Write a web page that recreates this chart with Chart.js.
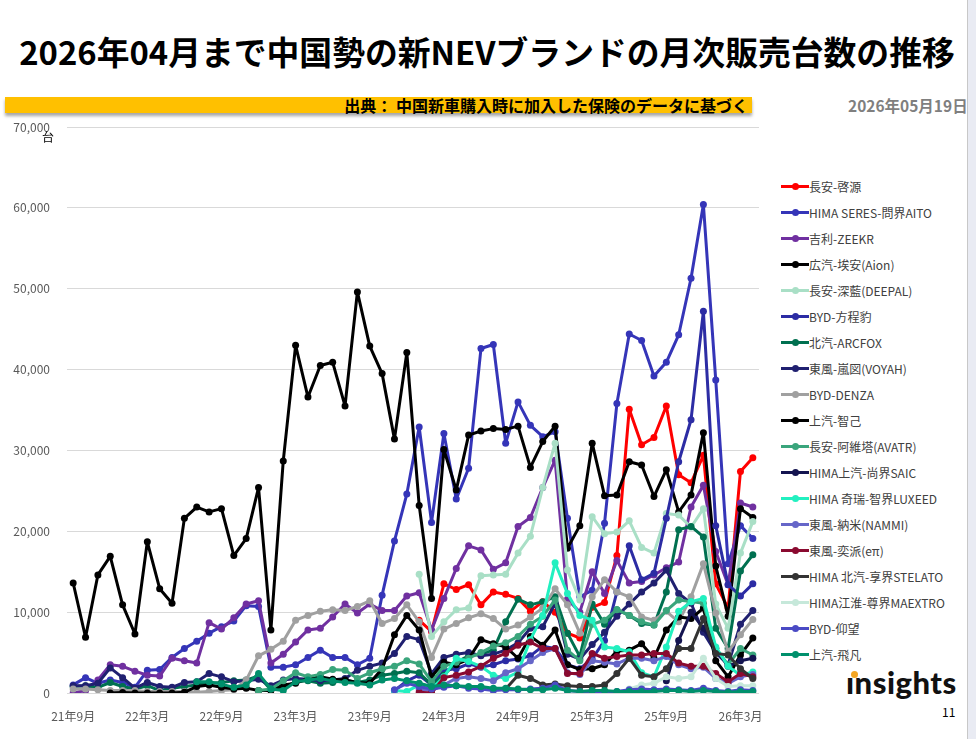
<!DOCTYPE html>
<html><head><meta charset="utf-8">
<script src="https://cdn.jsdelivr.net/npm/chart.js"></script>
<style>
html,body{margin:0;padding:0;background:#fff;}
#wrap{position:relative;width:976px;height:739px;overflow:hidden;background:#fff;font-family:"Noto Sans CJK JP","Noto Sans",sans-serif;}
#title{position:absolute;left:0;top:29px;width:974px;text-align:center;font-size:32.8px;font-weight:700;color:#000;line-height:44px;white-space:nowrap;}
#srcbar{position:absolute;left:5px;top:97px;width:747px;height:16px;background:#ffc000;box-shadow:0 3px 3px rgba(0,0,0,0.35);text-align:right;font-size:16px;font-weight:700;line-height:16px;color:#000;box-sizing:border-box;padding-right:4px;white-space:nowrap;}
#date{position:absolute;left:848px;top:95px;font-size:15.5px;font-weight:700;color:#7f7f7f;line-height:20px;white-space:nowrap;}
#c{position:absolute;left:0;top:0;}
#unit{position:absolute;left:42px;top:130px;font-size:12px;color:#000;line-height:14px;}
#legend{position:absolute;left:781px;top:173px;}
.li{height:26px;display:flex;align-items:center;white-space:nowrap;font-size:12px;color:#404040;}
.sw{position:relative;width:28px;height:12px;}
.sw .ln{position:absolute;left:0;top:4.5px;width:28px;height:3px;}
.sw .dt{position:absolute;left:10.5px;top:2.5px;width:7px;height:7px;border-radius:50%;}
#logo{position:absolute;left:846px;top:662px;font-family:Lato,"Open Sans",sans-serif;font-weight:900;font-size:31px;color:#111;line-height:40px;letter-spacing:0.5px;}
#logodot{position:absolute;left:851px;top:671px;width:7px;height:7px;border-radius:50%;background:#f5a623;}
#page{position:absolute;left:942px;top:704px;font-size:12px;color:#000;line-height:16px;}
#rstrip{position:absolute;left:967px;top:0;width:9px;height:739px;background:#e9ebf3;border-left:1px solid #c8c8c8;}
</style></head><body>
<div id="wrap">
<div id="title">2026年04月まで中国勢の新NEVブランドの月次販売台数の推移</div>
<div id="srcbar">出典： 中国新車購入時に加入した保険のデータに基づく</div>
<div id="date">2026年05月19日</div>
<canvas id="c" width="770" height="739"></canvas>
<div id="unit">台</div>
<div id="legend"></div>
<div id="logo">ınsights</div>
<div id="logodot"></div>
<div id="page">11</div>
<div id="rstrip"></div>
</div>
<script>
const categories = [
 "21年9月","21年10月","21年11月","21年12月",
 "22年1月","22年2月","22年3月","22年4月","22年5月","22年6月","22年7月","22年8月","22年9月","22年10月","22年11月","22年12月",
 "23年1月","23年2月","23年3月","23年4月","23年5月","23年6月","23年7月","23年8月","23年9月","23年10月","23年11月","23年12月",
 "24年1月","24年2月","24年3月","24年4月","24年5月","24年6月","24年7月","24年8月","24年9月","24年10月","24年11月","24年12月",
 "25年1月","25年2月","25年3月","25年4月","25年5月","25年6月","25年7月","25年8月","25年9月","25年10月","25年11月","25年12月",
 "26年1月","26年2月","26年3月","26年4月"
];
const yTicks = [0,10000,20000,30000,40000,50000,60000,70000];
const tickEvery = 6;

const seriesNames = [
 "長安-啓源","HIMA SERES-問界AITO","吉利-ZEEKR","広汽-埃安(Aion)","長安-深藍(DEEPAL)","BYD-方程豹","北汽-ARCFOX","東風-嵐図(VOYAH)","BYD-DENZA","上汽-智己",
 "長安-阿維塔(AVATR)","HIMA上汽-尚界SAIC","HIMA 奇瑞-智界LUXEED","東風-納米(NAMMI)","東風-奕派(eπ)","HIMA 北汽-享界STELATO","HIMA江淮-尊界MAEXTRO","BYD-仰望","上汽-飛凡"
];
const seriesColors = [
 "#ff0000","#3535b8","#7030a0","#000000","#a9dfc6","#2c2ca4","#007050","#202070","#a0a0a0","#000000",
 "#3aa57c","#141450","#22f0c0","#6666c8","#8a0a30","#333333","#c6e8da","#4a4ac4","#00906c"
];

const qiyuan = [null,null,null,null,null,null,null,null,null,null,null,null,null,null,null,null,null,null,null,null,null,null,null,null,null,null,null,null,
 9000,7600,13500,12800,13400,10900,12500,12200,11700,10100,
 11300,10000,7400,6800,10600,11200,17000,35100,30700,31600,
 35500,27000,26000,29400,13500,10500,27400,29100];
const aito = [1000,1900,1200,1600,1300,700,2800,2900,4400,5500,
 6400,7400,8200,8900,10800,10700,3200,3200,3500,4400,
 5300,4400,4400,3500,4300,12100,18800,24600,32900,21100,
 32100,24000,27800,42600,43100,30900,36000,33100,31700,32300,
 21600,11900,12700,21000,35800,44400,43600,39200,40900,44300,
 51300,60400,38700,16000,20700,19100];
const zeekr = [0,300,1600,3500,3300,2700,2200,2100,4300,4000,
 3700,8700,7900,9300,11000,11400,3700,4800,6300,7800,
 8000,9400,11000,9900,11000,10200,10200,12000,12400,7800,
 11700,15400,18200,17700,15300,16100,20600,21700,25400,28800,
 11600,10000,15000,12300,16400,13600,13800,14600,15500,16200,
 23000,25700,17500,13400,23500,23000];
const aion = [13600,6900,14600,16900,10900,7300,18700,12900,11100,21600,
 23000,22400,22800,17000,19100,25400,7800,28700,43000,36600,
 40500,40900,35500,49600,42900,39500,31400,42100,23200,11700,
 30100,25100,31900,32400,32700,32600,33000,27900,31100,33000,
 17900,20700,30900,24400,24500,28600,28200,24300,27600,22400,
 24500,32200,15700,9500,22800,21700];
const deepal = [null,null,null,null,null,null,null,null,null,null,null,null,null,null,null,null,null,null,null,null,null,null,null,null,null,null,null,null,
 14700,7000,8800,10300,10500,14500,14600,14700,17300,19400,
 25400,30900,15200,11500,21800,19700,19900,21300,18000,17300,
 22200,22000,20500,22800,11000,8000,17300,21200];
const fangchengbao = [null,null,null,null,null,null,null,null,null,null,null,null,null,null,null,null,null,null,null,null,null,null,null,null,null,null,
 300,1500,2200,1000,2800,3000,3600,3200,3500,4000,
 4200,4600,5800,5500,3500,3000,4200,6500,12500,18200,
 14000,14800,21600,28600,33800,47200,20700,13400,12000,13500];
const arcfox = [800,900,700,1300,800,500,900,300,600,800,
 1000,1200,1300,1500,1600,2100,400,600,1400,1500,
 1200,1300,1600,1300,1600,2200,2400,2700,2500,1000,
 2200,3800,4600,4800,5300,8800,11600,10900,11300,11900,
 7400,4500,11000,8500,10300,9600,8600,8400,12500,20200,
 20600,19300,8000,5500,15100,17100];
const voyah = [900,900,1200,3100,1900,600,1300,800,700,1300,
 1400,2400,2000,1400,1500,1700,900,1600,1800,1700,
 1500,1600,1800,2800,3300,3700,4900,7000,6600,2400,
 4400,4800,5000,4600,4800,5300,6200,8000,8200,11100,
 4800,4200,6000,7500,9500,11000,12500,13600,15200,12300,
 11100,7500,5000,3500,8500,10200];
const denza = [500,500,400,300,300,300,200,200,200,200,
 100,200,300,400,1600,4600,5400,6400,9000,9600,
 10100,10300,10200,10700,11400,8600,9200,10900,8800,4400,
 7900,8600,9300,9800,9200,7900,8400,9400,10500,12900,
 10900,7400,11900,14000,12500,11900,9400,9000,10100,8800,
 11900,16000,9900,5100,7200,9100];
const zhiji = [null,null,null,
 0,50,0,0,0,0,100,
 800,1000,700,500,600,300,300,1000,1200,1800,
 2000,1700,1600,1300,1200,3000,7200,9600,7800,2000,
 3800,3500,4200,6600,6100,5700,4300,7000,5900,7800,
 3500,2900,3000,3500,5200,5300,6100,4300,7800,9400,
 9200,10500,4000,2000,4700,6800];
const avatr = [null,null,null,null,null,null,null,null,null,null,null,null,null,null,null,
 300,500,1500,2500,2000,
 2300,2900,2800,1800,2500,3000,3300,4000,3600,1400,
 3300,3800,4300,5000,5800,6200,7000,8500,9500,11500,
 5300,4000,8500,9000,10300,9600,8800,8400,10200,11500,
 11300,11100,5500,3500,5500,4700];
const shangjie = [null,null,null,null,null,null,null,null,null,null,null,null,null,null,null,null,null,null,null,null,null,null,null,null,
 null,null,null,null,null,null,null,null,null,null,null,null,null,null,null,null,null,null,null,null,null,null,null,null,
 1500,6500,10000,8000,5500,3300,4000,4300];
const luxeed = [null,null,null,null,null,null,null,null,null,null,null,null,null,null,null,null,null,null,null,null,null,null,null,null,null,null,
 300,200,1000,500,2000,4300,3900,3300,2200,1800,
 2600,6600,9600,16100,12300,9600,9000,5700,5500,5100,
 2500,2000,5700,10100,11300,11700,5700,3300,2200,2600];
const nammi = [null,null,null,null,null,null,null,null,null,null,null,null,null,null,null,null,null,null,null,null,null,null,null,null,null,null,null,null,
 500,300,1000,1800,2000,1800,1500,2500,3000,4000,
 5000,5500,2500,2300,4000,3800,3600,4300,4300,4000,
 4500,3500,3000,3200,1800,1200,2000,2300];
const yipai = [null,null,null,null,null,null,null,null,null,null,null,null,null,null,null,null,null,null,null,null,null,null,null,null,null,null,null,null,
 100,0,1900,2200,2600,3300,4300,4900,5900,6300,
 5500,5500,2400,2400,4900,4300,4500,4700,4700,4900,
 4900,3700,3300,3300,2400,1400,2400,2000];
const xiangjie = [null,null,null,null,null,null,null,null,null,null,null,null,null,null,null,null,null,null,null,null,null,null,null,null,null,null,null,null,null,null,null,null,null,null,null,
 500,2200,1800,1000,1100,900,800,800,1000,2400,
 4300,2200,2000,3000,5500,5500,9200,4900,4700,3000,
 1800];
const zunjie = [null,null,null,null,null,null,null,null,null,null,null,null,null,null,null,null,null,null,null,null,null,null,null,null,null,null,null,null,null,null,null,null,null,null,null,null,null,null,null,null,null,null,null,null,null,
 500,1000,1200,2000,1800,2000,4300,1800,800,900,900];
const yangwang = [null,null,null,null,null,null,null,null,null,null,null,null,null,null,null,null,null,null,null,null,null,null,null,null,null,null,
 400,1200,800,500,700,900,600,500,300,400,
 400,500,600,1000,300,200,200,100,200,400,
 500,400,500,400,300,600,300,200,400,300];
const feifan = [null,null,null,null,null,null,null,null,null,null,
 1400,1400,1100,700,1000,2400,500,300,1400,1600,
 1800,1500,1300,1200,1000,1600,1800,1500,1200,800,
 1000,900,800,800,600,600,500,400,400,600,
 300,200,300,300,200,200,200,200,300,300,
 200,300,200,100,200,200];

const seriesValues = [qiyuan,aito,zeekr,aion,deepal,fangchengbao,arcfox,voyah,denza,zhiji,
 avatr,shangjie,luxeed,nammi,yipai,xiangjie,zunjie,yangwang,feifan];

const FONT = '"Noto Sans CJK JP","Noto Sans",sans-serif';
const datasets = seriesNames.map((name, i) => ({
  label: name,
  data: seriesValues[i],
  borderColor: seriesColors[i],
  backgroundColor: seriesColors[i],
  pointBackgroundColor: seriesColors[i],
  pointBorderWidth: 0,
  pointRadius: 3.5,
  borderWidth: 3,
  borderJoinStyle: 'round',
  borderCapStyle: 'round',
  tension: 0,
  spanGaps: false,
  order: -i
}));

const chart = new Chart(document.getElementById('c'), {
  type: 'line',
  data: { labels: categories, datasets },
  options: {
    responsive: false,
    animation: false,
    layout: { padding: { top: 127, right: 11, left: 0, bottom: 0 } },
    plugins: { legend: { display: false }, tooltip: { enabled: false } },
    scales: {
      x: {
        offset: true,
        grid: { display: false },
        border: { display: false },
        ticks: {
          autoSkip: false, maxRotation: 0, minRotation: 0, padding: 8,
          color: '#595959', font: { size: 12, family: FONT },
          callback: (v, i) => (i % tickEvery === 0 ? categories[i] : '')
        },
        afterFit: s => { s.height = 46; }
      },
      y: {
        min: yTicks[0], max: yTicks[yTicks.length - 1],
        afterBuildTicks: s => { s.ticks = yTicks.map(v => ({ value: v })); },
        grid: { color: '#d9d9d9', lineWidth: 1, drawTicks: false },
        border: { display: false },
        ticks: {
          padding: 17, color: '#595959', font: { size: 12, family: FONT },
          callback: v => v.toLocaleString('en-US')
        },
        afterFit: s => { s.width = 67; }
      }
    }
  }
});

const lg = document.getElementById('legend');
chart.data.datasets.forEach(ds => {
  const row = document.createElement('div');
  row.className = 'li';
  const sw = document.createElement('div');
  sw.className = 'sw';
  const ln = document.createElement('div'); ln.className = 'ln'; ln.style.background = ds.borderColor;
  const dt = document.createElement('div'); dt.className = 'dt'; dt.style.background = ds.borderColor;
  sw.appendChild(ln); sw.appendChild(dt);
  const tx = document.createElement('span'); tx.textContent = ds.label;
  row.appendChild(sw); row.appendChild(tx);
  lg.appendChild(row);
});
</script>
</body></html>
